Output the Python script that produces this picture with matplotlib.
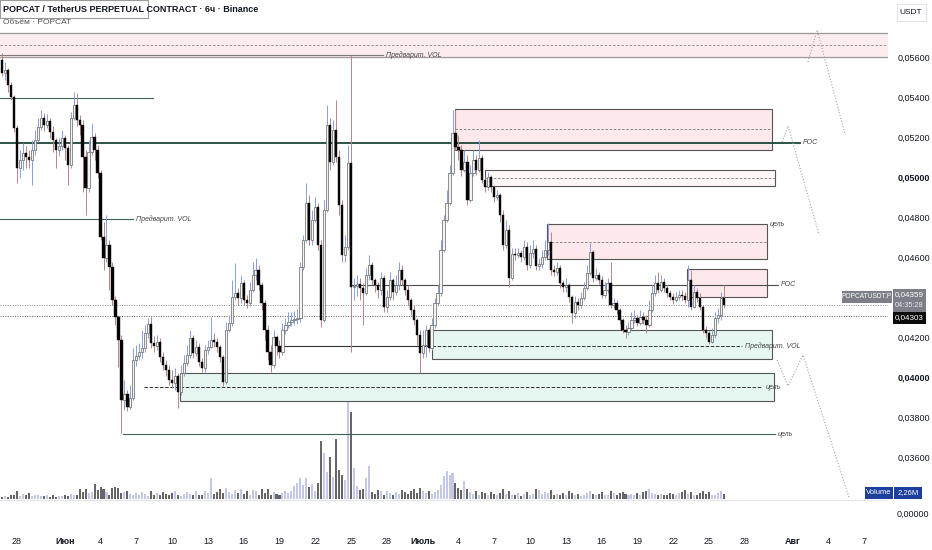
import numpy as np
import pandas as pd
import matplotlib
matplotlib.use("Agg")
import matplotlib.pyplot as plt
import matplotlib.dates as mdates
from matplotlib.patches import Rectangle

plt.rcParams['font.family'] = ['Liberation Sans', 'DejaVu Sans']

# -----------------------------
# Data (6h candles, POPCATUSDT.P)
# -----------------------------
first_open = 0.05585
close = [
    0.05520, 0.05535, 0.05460, 0.05400, 0.05245, 0.05045, 0.05085, 0.05120, 0.05100, 0.05085,
    0.05135, 0.05185, 0.05250, 0.05295, 0.05260, 0.05280, 0.05225, 0.05185, 0.05135, 0.05155,
    0.05195, 0.05145, 0.05060, 0.05295, 0.05360, 0.05285, 0.05260, 0.05100, 0.04945, 0.05125,
    0.05200, 0.05135, 0.05020, 0.04700, 0.04595, 0.04660, 0.04550, 0.04385, 0.04300, 0.04185,
    0.03885, 0.03915, 0.03850, 0.03895, 0.04085, 0.04105, 0.04125, 0.04145, 0.04220, 0.04265,
    0.04170, 0.04155, 0.04175, 0.04100, 0.04060, 0.04035, 0.03985, 0.03970, 0.04005, 0.03925,
    0.04020, 0.04070, 0.04110, 0.04195, 0.04120, 0.04150, 0.04075, 0.04045, 0.04135, 0.04150,
    0.04185, 0.04175, 0.04150, 0.04100, 0.03975, 0.04235, 0.04270, 0.04400, 0.04420, 0.04395,
    0.04470, 0.04385, 0.04370, 0.04435, 0.04510, 0.04535, 0.04460, 0.04370, 0.04235, 0.04125,
    0.04060, 0.04200, 0.04155, 0.04125, 0.04235, 0.04260, 0.04275, 0.04285, 0.04290, 0.04295,
    0.04550, 0.04685, 0.04870, 0.04685, 0.04785, 0.04850, 0.04660, 0.04285, 0.04835, 0.05260,
    0.05075, 0.05235, 0.05100, 0.04860, 0.04610, 0.04650, 0.05070, 0.04450, 0.04455, 0.04465,
    0.04445, 0.04420, 0.04510, 0.04560, 0.04485, 0.04460, 0.04435, 0.04495, 0.04350, 0.04400,
    0.04485, 0.04425, 0.04460, 0.04535, 0.04485, 0.04435, 0.04385, 0.04335, 0.04285, 0.04210,
    0.04120, 0.04160, 0.04235, 0.04145, 0.04260, 0.04370, 0.04420, 0.04635, 0.04785, 0.04870,
    0.05020, 0.05220, 0.05150, 0.05135, 0.05035, 0.05075, 0.04885, 0.05020, 0.05085, 0.05035,
    0.05095, 0.04985, 0.04950, 0.05000, 0.04950, 0.04900, 0.04910, 0.04810, 0.04660, 0.04735,
    0.04495, 0.04615, 0.04610, 0.04620, 0.04600, 0.04650, 0.04560, 0.04620, 0.04640, 0.04555,
    0.04565, 0.04600, 0.04635, 0.04675, 0.04535, 0.04525, 0.04545, 0.04470, 0.04450, 0.04460,
    0.04400, 0.04320, 0.04375, 0.04360, 0.04395, 0.04445, 0.04520, 0.04625, 0.04495, 0.04510,
    0.04485, 0.04410, 0.04435, 0.04470, 0.04360, 0.04370, 0.04335, 0.04285, 0.04235, 0.04225,
    0.04245, 0.04285, 0.04295, 0.04270, 0.04300, 0.04285, 0.04260, 0.04335, 0.04420, 0.04470,
    0.04435, 0.04475, 0.04445, 0.04420, 0.04400, 0.04385, 0.04400, 0.04410, 0.04405, 0.04385,
    0.04485, 0.04350, 0.04425, 0.04395, 0.04350, 0.04235, 0.04220, 0.04175, 0.04210, 0.04295,
    0.04310, 0.04395, 0.04359,
]
high = [
    0.05620, 0.05575, 0.05545, 0.05475, 0.05410, 0.05260, 0.05135, 0.05170, 0.05155, 0.05135,
    0.05185, 0.05235, 0.05295, 0.05335, 0.05320, 0.05315, 0.05295, 0.05255, 0.05195, 0.05195,
    0.05235, 0.05210, 0.05160, 0.05325, 0.05425, 0.05420, 0.05310, 0.05285, 0.05135, 0.05185,
    0.05270, 0.05220, 0.05160, 0.05035, 0.04775, 0.04810, 0.04685, 0.04575, 0.04405, 0.04310,
    0.04210, 0.03985, 0.03935, 0.03960, 0.04145, 0.04160, 0.04170, 0.04235, 0.04260, 0.04295,
    0.04300, 0.04205, 0.04210, 0.04195, 0.04125, 0.04085, 0.04060, 0.04035, 0.04045, 0.04020,
    0.04060, 0.04110, 0.04160, 0.04235, 0.04210, 0.04185, 0.04170, 0.04095, 0.04160, 0.04185,
    0.04300, 0.04220, 0.04195, 0.04160, 0.04110, 0.04275, 0.04310, 0.04485, 0.04570, 0.04445,
    0.04510, 0.04485, 0.04410, 0.04475, 0.04575, 0.04595, 0.04560, 0.04475, 0.04385, 0.04260,
    0.04160, 0.04235, 0.04210, 0.04185, 0.04270, 0.04295, 0.04325, 0.04325, 0.04330, 0.04340,
    0.04575, 0.04710, 0.04970, 0.04910, 0.04835, 0.04900, 0.04870, 0.04685, 0.04885, 0.05360,
    0.05295, 0.05285, 0.05385, 0.05135, 0.04885, 0.04710, 0.05160, 0.05610, 0.04495, 0.04510,
    0.04495, 0.04470, 0.04545, 0.04610, 0.04575, 0.04495, 0.04475, 0.04525, 0.04510, 0.04435,
    0.04525, 0.04495, 0.04510, 0.04575, 0.04560, 0.04495, 0.04460, 0.04395, 0.04360, 0.04295,
    0.04235, 0.04235, 0.04260, 0.04245, 0.04295, 0.04395, 0.04460, 0.04685, 0.04810, 0.04935,
    0.05060, 0.05335, 0.05335, 0.05210, 0.05160, 0.05135, 0.05110, 0.05060, 0.05135, 0.05110,
    0.05185, 0.05110, 0.04995, 0.05025, 0.05010, 0.04960, 0.04935, 0.04920, 0.04835, 0.04785,
    0.04760, 0.04645, 0.04645, 0.04645, 0.04635, 0.04685, 0.04675, 0.04660, 0.04685, 0.04660,
    0.04595, 0.04635, 0.04685, 0.04770, 0.04725, 0.04560, 0.04575, 0.04560, 0.04485, 0.04495,
    0.04470, 0.04410, 0.04405, 0.04395, 0.04425, 0.04475, 0.04560, 0.04670, 0.04635, 0.04545,
    0.04525, 0.04505, 0.04475, 0.04495, 0.04575, 0.04395, 0.04385, 0.04345, 0.04295, 0.04260,
    0.04275, 0.04325, 0.04335, 0.04310, 0.04335, 0.04325, 0.04310, 0.04385, 0.04460, 0.04510,
    0.04525, 0.04510, 0.04495, 0.04460, 0.04435, 0.04420, 0.04425, 0.04435, 0.04435, 0.04425,
    0.04560, 0.04535, 0.04460, 0.04445, 0.04420, 0.04360, 0.04255, 0.04235, 0.04245, 0.04325,
    0.04345, 0.04425, 0.04460,
]
low = [
    0.05505, 0.05485, 0.05425, 0.05385, 0.05225, 0.04970, 0.04995, 0.05035, 0.05045, 0.05045,
    0.04960, 0.05110, 0.05175, 0.05235, 0.05230, 0.05245, 0.05195, 0.05125, 0.05045, 0.05105,
    0.05135, 0.05085, 0.04960, 0.05045, 0.05285, 0.05255, 0.05210, 0.04925, 0.04810, 0.04925,
    0.05110, 0.05085, 0.04995, 0.04685, 0.04535, 0.04575, 0.04435, 0.04360, 0.04260, 0.04050,
    0.03720, 0.03835, 0.03830, 0.03840, 0.03885, 0.04055, 0.04085, 0.04095, 0.04125, 0.04195,
    0.04145, 0.04125, 0.04135, 0.04075, 0.04035, 0.04005, 0.03960, 0.03945, 0.03935, 0.03845,
    0.03910, 0.04005, 0.04055, 0.04095, 0.04095, 0.04105, 0.04055, 0.04025, 0.04025, 0.04115,
    0.04145, 0.04150, 0.04125, 0.04075, 0.03955, 0.03965, 0.04225, 0.04255, 0.04385, 0.04360,
    0.04370, 0.04360, 0.04345, 0.04355, 0.04425, 0.04485, 0.04435, 0.04335, 0.04185, 0.04085,
    0.04025, 0.04045, 0.04110, 0.04095, 0.04110, 0.04215, 0.04245, 0.04255, 0.04260, 0.04265,
    0.04275, 0.04535, 0.04675, 0.04660, 0.04660, 0.04775, 0.04635, 0.04250, 0.04275, 0.04825,
    0.05035, 0.05060, 0.05075, 0.04810, 0.04575, 0.04575, 0.04635, 0.04125, 0.04385, 0.04405,
    0.04385, 0.04260, 0.04410, 0.04485, 0.04460, 0.04425, 0.04395, 0.04410, 0.04325, 0.04325,
    0.04385, 0.04385, 0.04410, 0.04435, 0.04460, 0.04410, 0.04360, 0.04310, 0.04260, 0.04160,
    0.04020, 0.04095, 0.04100, 0.04125, 0.04135, 0.04245, 0.04355, 0.04405, 0.04625, 0.04775,
    0.04860, 0.05010, 0.05135, 0.05085, 0.05005, 0.05025, 0.04860, 0.04875, 0.05005, 0.05010,
    0.05025, 0.04970, 0.04925, 0.04935, 0.04925, 0.04875, 0.04885, 0.04775, 0.04635, 0.04645,
    0.04450, 0.04485, 0.04585, 0.04595, 0.04575, 0.04585, 0.04535, 0.04545, 0.04595, 0.04535,
    0.04535, 0.04545, 0.04585, 0.04610, 0.04510, 0.04505, 0.04510, 0.04445, 0.04425, 0.04425,
    0.04375, 0.04270, 0.04295, 0.04335, 0.04345, 0.04385, 0.04435, 0.04510, 0.04475, 0.04485,
    0.04465, 0.04395, 0.04395, 0.04420, 0.04345, 0.04345, 0.04315, 0.04265, 0.04220, 0.04195,
    0.04210, 0.04235, 0.04270, 0.04255, 0.04260, 0.04265, 0.04220, 0.04250, 0.04325, 0.04405,
    0.04420, 0.04425, 0.04425, 0.04400, 0.04385, 0.04365, 0.04375, 0.04385, 0.04385, 0.04370,
    0.04350, 0.04335, 0.04345, 0.04375, 0.04335, 0.04220, 0.04195, 0.04165, 0.04170, 0.04195,
    0.04270, 0.04285, 0.04345,
]
# volume, millions
volume = [
    1.0, 1.4, 0.8, 2.0, 1.8, 3.6, 1.5, 2.2, 1.8, 2.5,
    1.2, 2.0, 1.6, 1.4, 1.2, 1.8, 1.0, 1.6, 0.9, 1.4,
    1.2, 1.8, 1.5, 2.4, 2.0, 1.6, 4.5, 3.0, 4.5, 2.6,
    3.2, 6.8, 4.0, 5.4, 4.6, 3.2, 2.0, 5.0, 5.2, 4.8,
    2.8, 3.0, 3.4, 2.2, 1.8, 2.6, 1.6, 3.0, 2.2, 1.4,
    3.4, 2.0, 2.6, 1.8, 3.2, 2.4, 1.6, 2.8, 3.6, 2.0,
    1.4, 2.2, 3.0, 2.4, 1.8, 3.4, 2.0, 1.8, 3.6, 2.6,
    9.6, 2.2, 3.0, 4.4, 2.6, 5.0, 3.0, 2.4, 4.0, 2.8,
    4.4, 2.2, 3.6, 1.8, 4.2, 3.4, 2.0, 4.6, 2.6, 4.4,
    1.8, 3.0, 2.4, 1.6, 2.8, 3.8, 2.6, 3.4, 5.8, 7.0,
    9.4, 6.2, 9.5, 5.4, 6.8, 3.6, 7.2, 26.0, 20.7, 12.0,
    19.0, 10.0, 27.0, 13.0, 11.0, 8.5, 56.0, 39.0, 14.0, 6.0,
    4.0, 4.5, 9.5, 15.0, 3.0, 2.2, 4.2, 3.6, 2.0, 3.4,
    2.6, 1.8, 3.2, 2.4, 4.0, 3.0, 2.2, 3.6, 4.4, 2.8,
    5.0, 3.4, 2.6, 3.8, 2.2, 3.0, 4.2, 6.4, 10.4, 12.6,
    10.8, 11.7, 7.2, 5.0, 4.0, 8.1, 4.6, 3.0, 2.4, 3.8,
    2.0, 3.2, 2.6, 1.6, 3.0, 2.2, 1.8, 2.8, 4.4, 2.4,
    3.6, 2.0, 1.6, 2.6, 1.4, 2.2, 3.0, 1.8, 2.4, 4.6,
    4.0, 2.2, 3.2, 2.6, 4.2, 1.8, 2.4, 1.6, 2.8, 2.0,
    3.4, 2.6, 1.8, 2.2, 1.4, 2.0, 2.8, 3.6, 2.2, 1.6,
    2.4, 3.0, 2.0, 1.8, 3.8, 2.6, 2.0, 2.8, 3.2, 2.4,
    1.8, 2.2, 1.6, 2.6, 2.0, 3.0, 3.4, 4.4, 2.6, 2.2,
    1.8, 2.4, 1.6, 2.0, 2.8, 2.2, 1.8, 2.6, 3.2, 4.0,
    2.4, 3.0, 2.0, 1.6, 2.8, 3.6, 2.4, 3.2, 2.0, 1.8,
    2.6, 3.8, 2.26,
]

tick_dates = ["2025-05-28", "2025-06-01", "2025-06-04", "2025-06-07", "2025-06-10",
              "2025-06-13", "2025-06-16", "2025-06-19", "2025-06-22", "2025-06-25",
              "2025-06-28", "2025-07-01", "2025-07-04", "2025-07-07", "2025-07-10",
              "2025-07-13", "2025-07-16", "2025-07-19", "2025-07-22", "2025-07-25",
              "2025-07-28", "2025-08-01", "2025-08-04", "2025-08-07"]
tick_labels = ["28", "Июн", "4", "7", "10", "13", "16", "19", "22", "25", "28",
               "Июль", "4", "7", "10", "13", "16", "19", "22", "25", "28", "Авг", "4", "7"]
month_labels = ["Июн", "Июль", "Авг"]
price_ticks = [0.036, 0.038, 0.040, 0.042, 0.046, 0.048, 0.050, 0.052, 0.054, 0.056]
bold_ticks = [0.040, 0.050]

last_price = 0.04359
other_price = 0.04303

# zones: (start, end, top, bottom, mid, fill)
zones = [
    ("2025-07-03 17:00", "2025-07-30 07:00", 0.05340, 0.05135, 0.05240, "#fde8eb"),
    ("2025-07-06 06:00", "2025-07-30 13:00", 0.05035, 0.04955, 0.04995, "#fff6f7"),
    ("2025-07-11 10:00", "2025-07-29 21:00", 0.04765, 0.04590, 0.04675, "#fde8eb"),
    ("2025-07-23 04:00", "2025-07-29 21:00", 0.04540, 0.04400, None, "#fde8eb"),
    ("2025-07-01 19:00", "2025-07-30 07:00", 0.04235, 0.04090, None, "#e6f6f1"),
    ("2025-06-10 16:00", "2025-07-30 11:00", 0.04020, 0.03880, None, "#e6f6f1"),
]
# levels: (start, end, price, color, width, style, label)
levels = [
    (None, "2025-06-27 16:00", 0.05610, "#7a7a7a", 0.8, "-", "Предварит. VOL"),
    (None, "2025-06-08 10:00", 0.05395, "#3f6356", 0.8, "-", None),
    (None, "2025-08-01 15:00", 0.05170, "#1b4638", 1.3, "-", "POC"),
    (None, "2025-06-06 17:00", 0.04790, "#3f6356", 0.8, "-", "Предварит. VOL"),
    ("2025-06-24 22:00", "2025-07-30 19:00", 0.04460, "#4d4d4d", 0.8, "-", "POC"),
    ("2025-06-19 01:00", "2025-07-01 19:00", 0.04155, "#333333", 0.8, "-", None),
    ("2025-07-01 19:00", "2025-07-27 18:00", 0.04155, "#333333", 0.7, "--", "Предварит. VOL"),
    ("2025-06-07 15:30", "2025-07-29 11:00", 0.03950, "#333333", 0.7, "--", "цель"),
    ("2025-06-05 21:00", "2025-07-30 13:00", 0.03715, "#3f6356", 0.8, "-", "цель"),
]
target_label_date = "2025-07-29 21:00"
target_label_price = 0.04765

path_a_dates = ["2025-08-02 07:00", "2025-08-03 01:30", "2025-08-05 10:00"]
path_a_prices = [0.05575, 0.05735, 0.05210]
path_b_dates = ["2025-07-31 03:00", "2025-07-31 15:00", "2025-08-03 05:30"]
path_b_prices = [0.05175, 0.05255, 0.04710]
path_c_dates = ["2025-07-30 17:00", "2025-07-31 15:00", "2025-08-01 21:00", "2025-08-05 18:00"]
path_c_prices = [0.04085, 0.03955, 0.04110, 0.03395]

# -----------------------------
# Figure setup
# -----------------------------
W, H = 932, 550
fig = plt.figure(figsize=(W / 100, H / 100), dpi=100)
fig.patch.set_facecolor("white")
ax = fig.add_axes([0, 25 / H, 888 / W, 525 / H])
axv = ax.twinx()
ax.set_zorder(axv.get_zorder() + 1)
ax.patch.set_visible(False)


def fx(px):
    return px / W


def fy(py):
    return 1 - py / H


def dn(s):
    return mdates.date2num(pd.Timestamp(s))


close = np.array(close)
high = np.array(high)
low = np.array(low)
opn = np.concatenate([[first_open], close[:-1]])
t = mdates.date2num(pd.date_range("2025-05-26 18:00", periods=len(close), freq="6h"))
up = close >= opn

x_left, x_right = dn("2025-05-26 13:48"), dn("2025-08-09 00:00")
ax.set_xlim(x_left, x_right)
ax.set_ylim(0.05885 - 525 / 20000, 0.05885)
axv.set_ylim(-11.7, 224.55)

# -----------------------------
# Volume
# -----------------------------
vol_colors = np.where(up, "#c3c7e8", "#666666")
axv.bar(t, volume, width=0.17, color=vol_colors, linewidth=0)
axv.axis("off")

# -----------------------------
# Zones and levels
# -----------------------------
ax.axhspan(0.05600, 0.05720, color="#fdecee", zorder=1)
ax.axhline(0.05720, color="#9a9a9a", lw=0.9, zorder=2)
ax.axhline(0.05600, color="#9a9a9a", lw=0.9, zorder=2)
ax.axhline(0.05660, color="#8a8a8a", lw=0.6, ls=(0, (3, 2)), zorder=2)

for start, end, top, bottom, mid, fill in zones:
    x0, x1 = dn(start), dn(end)
    ax.add_patch(Rectangle((x0, bottom), x1 - x0, top - bottom, facecolor=fill,
                           edgecolor="#555555", lw=0.8, zorder=1))
    if mid is not None:
        ax.plot([x0, x1], [mid, mid], color="#777777", lw=0.6, ls=(0, (3, 2)), zorder=2)

for start, end, price, color, width, style, label in levels:
    x0 = x_left if start is None else dn(start)
    x1 = dn(end)
    ax.plot([x0, x1], [price, price], color=color, lw=width, ls=style, zorder=2)
    if label:
        ax.text(x1 + 0.25, price, label, fontsize=5, style="italic", color="#444444",
                va="center", ha="left", zorder=5)
ax.text(dn(target_label_date) + 0.25, target_label_price, "цель", fontsize=5,
        style="italic", color="#444444", va="center", ha="left", zorder=5)

for dates, prices in [(path_a_dates, path_a_prices), (path_b_dates, path_b_prices),
                      (path_c_dates, path_c_prices)]:
    ax.plot([dn(d) for d in dates], prices, color="#a0a3ab", lw=0.8,
            ls=(0, (1, 1.6)), zorder=2)

ax.axhline(last_price, color="#8a8a8a", lw=0.7, ls=(0, (1, 1.5)), zorder=2)
ax.axhline(other_price, color="#555555", lw=0.7, ls=(0, (1, 1.5)), zorder=2)
ax.axhline(0.05885 - 500 / 20000, color="#e3e5ea", lw=0.9, zorder=1)

# -----------------------------
# Candles
# -----------------------------
wick_colors = np.where(up, "#86a0e0", "#b98585")
ax.vlines(t, np.minimum(low, np.minimum(opn, close)), np.maximum(high, np.maximum(opn, close)),
          colors=wick_colors, lw=0.7, zorder=3)
body_bottom = np.minimum(opn, close)
body_height = np.maximum(np.abs(close - opn), 0.00002)
ax.bar(t[up], body_height[up], bottom=body_bottom[up], width=0.19,
       color="#f4f4f4", edgecolor="#6f6f6f", linewidth=0.55, zorder=4)
ax.bar(t[~up], body_height[~up], bottom=body_bottom[~up], width=0.19,
       color="#050505", edgecolor="#050505", linewidth=0.3, zorder=4)

# -----------------------------
# Axes styling
# -----------------------------
for s in ax.spines.values():
    s.set_visible(False)
ax.yaxis.tick_right()
ax.set_yticks(price_ticks)
ax.set_yticklabels([f"{p:.5f}".replace(".", ",") for p in price_ticks])
ax.tick_params(axis="y", length=0, pad=7, labelsize=6.5, labelcolor="#131722")
for lbl, p in zip(ax.get_yticklabels(), price_ticks):
    if p in bold_ticks:
        lbl.set_fontweight("bold")
ax.set_xticks([dn(d) for d in tick_dates])
ax.set_xticklabels(tick_labels)
ax.tick_params(axis="x", length=0, pad=9, labelsize=6.5, labelcolor="#131722")
for lbl in ax.get_xticklabels():
    if lbl.get_text() in month_labels:
        lbl.set_fontweight("bold")

# -----------------------------
# Header and price labels
# -----------------------------
fig.patches.append(Rectangle((fx(0), fy(18)), fx(148), 18 / H, transform=fig.transFigure,
                             facecolor="none", edgecolor="#9a9a9a", lw=0.8))
fig.text(fx(3), fy(10), "POPCAT / TetherUS PERPETUAL CONTRACT · 6ч · Binance",
         fontsize=6.5, fontweight="bold", color="#131722", va="center")
fig.text(fx(3), fy(22), "Объём · POPCAT", fontsize=6, color="#555555", va="center")

fig.patches.append(Rectangle((fx(897), fy(21)), 29 / W, 17 / H, transform=fig.transFigure,
                             facecolor="white", edgecolor="#e0e3eb", lw=0.8))
fig.text(fx(911), fy(12.5), "USDT", fontsize=6, color="#131722", ha="center", va="center")

fig.patches.append(Rectangle((fx(842), fy(303)), 50 / W, 12 / H, transform=fig.transFigure,
                             facecolor="#7c7f88", edgecolor="none"))
fig.text(fx(867), fy(297), "POPCATUSDT.P", fontsize=4.8, color="white", ha="center", va="center")
fig.patches.append(Rectangle((fx(893), fy(312)), 33 / W, 23 / H, transform=fig.transFigure,
                             facecolor="#7c7f88", edgecolor="none"))
fig.text(fx(909.5), fy(295), f"{last_price:.5f}".replace(".", ","), fontsize=5.8,
         color="white", ha="center", va="center")
fig.text(fx(909.5), fy(305.5), "04:35:28", fontsize=5.3, color="#e8e8e8", ha="center", va="center")
fig.patches.append(Rectangle((fx(893), fy(324)), 33 / W, 12 / H, transform=fig.transFigure,
                             facecolor="#0b0b0b", edgecolor="none"))
fig.text(fx(909.5), fy(318), f"{other_price:.5f}".replace(".", ","), fontsize=5.8,
         color="white", ha="center", va="center")

fig.patches.append(Rectangle((fx(865), fy(499)), 28 / W, 12 / H, transform=fig.transFigure,
                             facecolor="#1c3f9e", edgecolor="none"))
fig.text(fx(879), fy(493), "Volume", fontsize=5.5, color="white", ha="center", va="center")
fig.patches.append(Rectangle((fx(894), fy(499)), 28 / W, 12 / H, transform=fig.transFigure,
                             facecolor="#1c3f9e", edgecolor="none"))
fig.text(fx(908), fy(493), f"{volume[-1]:.2f}M".replace(".", ","), fontsize=5.5,
         color="white", ha="center", va="center")
fig.text(fx(897), fy(514), "0,00000", fontsize=6.5, color="#131722", va="center")

fig.savefig("out.png", dpi=100)
